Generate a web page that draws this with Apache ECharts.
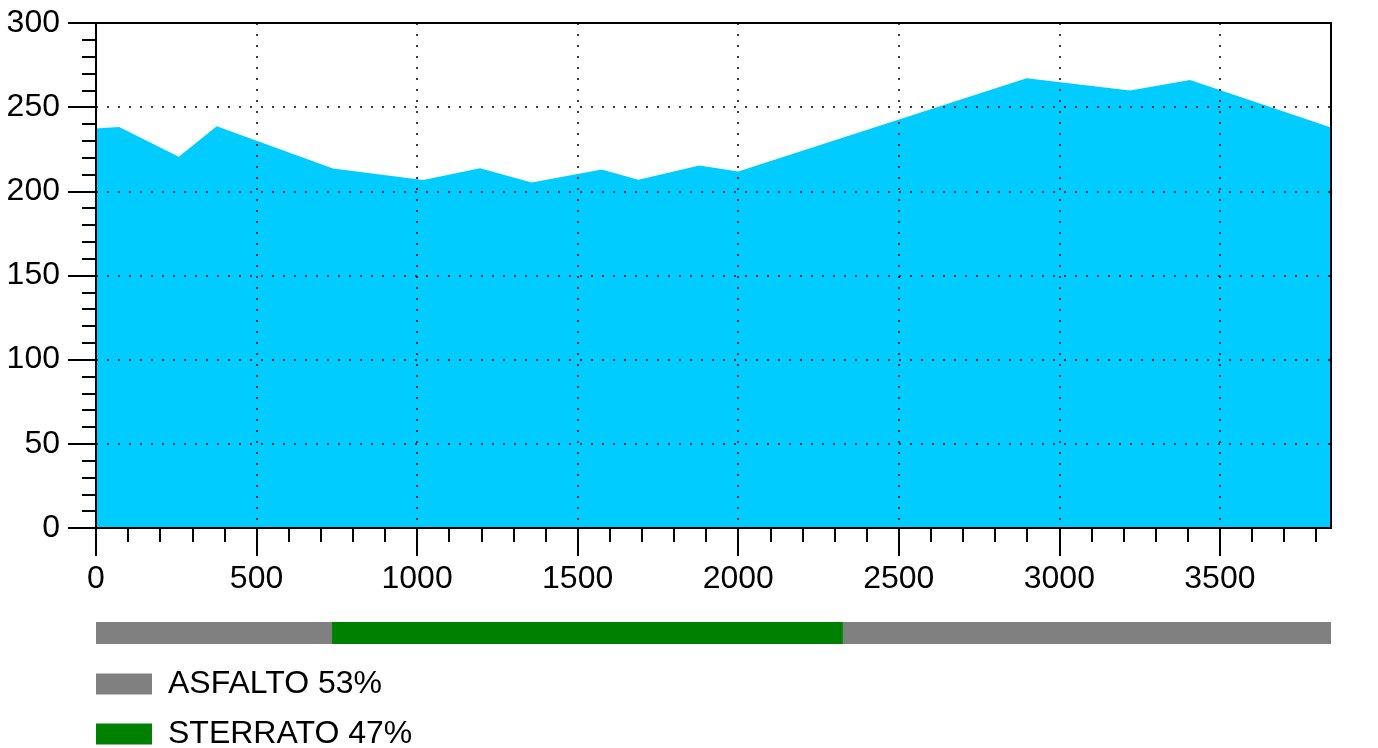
<!DOCTYPE html>
<html>
<head>
<meta charset="utf-8">
<script src="https://cdn.jsdelivr.net/npm/echarts@6/dist/echarts.min.js"></script>
<style>
html,body{margin:0;padding:0;background:#fff;}
#chart{width:1378px;height:748px;}
</style>
</head>
<body>
<div id="chart"></div>
<script>
// distance (m) and elevation (m) of the profile
const distances = [0, 72, 258, 376, 738, 1019, 1196, 1357, 1575, 1689, 1879, 2000, 2898, 3220, 3407, 3846];
const elevations = [237.4, 238.2, 220.6, 238.6, 213.5, 206.7, 213.7, 205.2, 212.9, 206.9, 215.3, 211.8, 267.2, 259.9, 266.2, 237.9];
// surface segments [start, end]
const asphaltSegments = [[0, 735], [2326, 3846]];
const dirtSegments = [[735, 2326]];
const legendNames = ['ASFALTO 53%', 'STERRATO 47%'];
// axis ticks
const xMajorTicks = [0, 500, 1000, 1500, 2000, 2500, 3000, 3500];
const xMinorTicks = [100, 200, 300, 400, 600, 700, 800, 900, 1100, 1200, 1300, 1400, 1600, 1700, 1800, 1900, 2100, 2200, 2300, 2400, 2600, 2700, 2800, 2900, 3100, 3200, 3300, 3400, 3600, 3700, 3800];
const xMax = 3846;

const FONT = '"Liberation Sans", Arial, sans-serif';
const FS = 32;
const chart = echarts.init(document.getElementById('chart'), null, {renderer: 'canvas'});

function segRender(params, api) {
  const p0 = api.coord([api.value(0), 1]);
  const p1 = api.coord([api.value(1), 0]);
  return {
    type: 'rect',
    shape: {x: p0[0], y: p0[1], width: p1[0] - p0[0], height: p1[1] - p0[1]},
    style: {fill: api.visual('color')}
  };
}

function legendAt(name, top) {
  return {
    orient: 'vertical', left: 96, top: top, icon: 'rect', padding: 0,
    itemWidth: 56, itemHeight: 21,
    data: [name],
    textStyle: {fontFamily: FONT, fontSize: FS, color: '#000', padding: [0, 0, 0, 11]}
  };
}

const option = {
  animation: false,
  backgroundColor: '#fff',
  grid: [
    {left: 96, right: 47, top: 23, bottom: 220, show: true, borderColor: '#000', borderWidth: 2, backgroundColor: 'transparent', z: 10},
    {left: 96, right: 47, top: 622, height: 22}
  ],
  legend: [legendAt(legendNames[0], 668), legendAt(legendNames[1], 718)],
  xAxis: [
    {
      type: 'value', gridIndex: 0, min: 0, max: xMax, interval: 500, z: 10,
      axisLine: {show: true, lineStyle: {color: '#000', width: 2}},
      axisTick: {show: true, length: 28, customValues: xMajorTicks, lineStyle: {color: '#000', width: 2}},
      axisLabel: {show: true, customValues: xMajorTicks, margin: 35, color: '#000', fontFamily: FONT, fontSize: FS, formatter: v => String(v)},
      splitLine: {show: true, lineStyle: {color: '#000', width: 1.5, type: [2, 9]}},
      minorTick: {show: false}
    },
    {
      type: 'value', gridIndex: 0, min: 0, max: xMax, interval: 100, position: 'bottom', z: 10,
      axisLine: {show: false},
      axisTick: {show: true, length: 14, customValues: xMinorTicks, lineStyle: {color: '#000', width: 2}},
      axisLabel: {show: false},
      splitLine: {show: false}
    },
    {type: 'value', gridIndex: 1, min: 0, max: xMax, show: false}
  ],
  yAxis: [
    {
      type: 'value', gridIndex: 0, min: 0, max: 300, interval: 50, z: 10,
      axisLine: {show: true, lineStyle: {color: '#000', width: 2}},
      axisTick: {show: true, length: 28, lineStyle: {color: '#000', width: 2}},
      minorTick: {show: true, splitNumber: 5, length: 14, lineStyle: {color: '#000', width: 2}},
      axisLabel: {margin: 36, color: '#000', fontFamily: FONT, fontSize: FS, formatter: v => String(v)},
      splitLine: {show: true, lineStyle: {color: '#000', width: 1.5, type: [2, 9]}}
    },
    {type: 'value', gridIndex: 1, min: 0, max: 1, show: false}
  ],
  series: [
    {
      type: 'line', xAxisIndex: 0, yAxisIndex: 0, z: 1,
      data: distances.map((d, i) => [d, elevations[i]]),
      symbol: 'none', silent: true,
      lineStyle: {width: 0, color: '#00CCFF'},
      areaStyle: {color: '#00CCFF', opacity: 1}
    },
    {
      name: legendNames[0], type: 'custom', xAxisIndex: 2, yAxisIndex: 1,
      itemStyle: {color: '#808080'}, renderItem: segRender,
      data: asphaltSegments, encode: {x: [0, 1]}
    },
    {
      name: legendNames[1], type: 'custom', xAxisIndex: 2, yAxisIndex: 1,
      itemStyle: {color: '#008000'}, renderItem: segRender,
      data: dirtSegments, encode: {x: [0, 1]}
    }
  ]
};
chart.setOption(option);
</script>
</body>
</html>
